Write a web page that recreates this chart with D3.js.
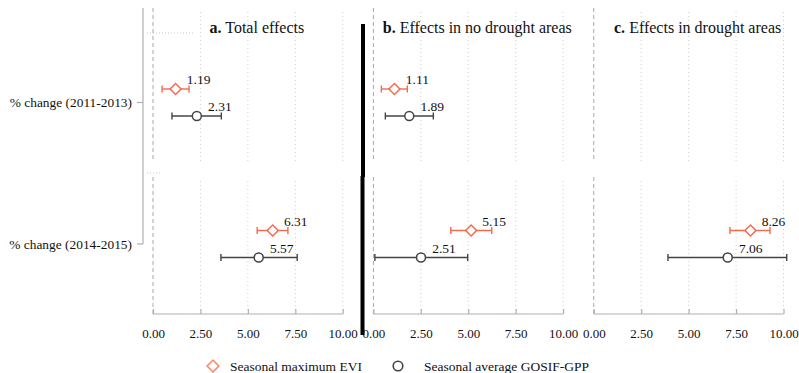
<!DOCTYPE html>
<html>
<head>
<meta charset="utf-8">
<script src="https://cdn.jsdelivr.net/npm/d3@7"></script>
<style>
  body { margin: 0; background: #fff; }
  svg { display: block; }
  svg text { font-family: "Liberation Serif", "Times New Roman", serif; }
</style>
</head>
<body>
<svg id="chart" width="799" height="373"></svg>
<script>
const panels = ["Total effects", "Effects in no drought areas", "Effects in drought areas"];
const panelLetters = ["a.", "b.", "c."];
const periods = ["% change (2011-2013)", "% change (2014-2015)"];
const series = ["Seasonal maximum EVI", "Seasonal average GOSIF-GPP"];
const xTicks = [0, 2.5, 5, 7.5, 10];

// [panel][period], null = not shown
const eviEst  = [[1.19, 6.31], [1.11, 5.15], [null, 8.26]];
const eviLow  = [[0.48, 5.49], [0.42, 4.08], [null, 7.18]];
const eviHigh = [[1.90, 7.11], [1.79, 6.24], [null, 9.29]];
const gppEst  = [[2.31, 5.57], [1.89, 2.51], [null, 7.06]];
const gppLow  = [[1.00, 3.58], [0.63, 0.08], [null, 3.91]];
const gppHigh = [[3.60, 7.60], [3.16, 4.97], [null, 10.17]];

const colors = { [series[0]]: "#f26b4d", [series[1]]: "#444444" };
const legendColors = { [series[0]]: "#f7906f", [series[1]]: "#444444" };
const serif = "Liberation Serif";

const svg = d3.select("#chart");

const panelX = d3.scaleBand().domain(panels).range([153, 783.5]).paddingInner(0.139);
const x = d3.scaleLinear().domain([0, 10]).range([0, panelX.bandwidth()]);
const rowY = d3.scalePoint().domain(periods).range([102.5, 244]);
const offY = d3.scalePoint().domain(series).range([-13.5, 13.5]);
const rowBands = [[8, 162], [177, 314]];
const axisY = 314;

// y axis on the left
const yAxis = svg.append("g");
yAxis.append("line")
  .attr("x1", 143).attr("x2", 143).attr("y1", 8).attr("y2", rowY(periods[1]))
  .attr("stroke", "#b0b0b0").attr("stroke-width", 1.2);
periods.forEach(p => {
  yAxis.append("line")
    .attr("x1", 137).attr("x2", 143).attr("y1", rowY(p)).attr("y2", rowY(p))
    .attr("stroke", "#b0b0b0").attr("stroke-width", 1.2);
  yAxis.append("text")
    .attr("x", 132).attr("y", rowY(p)).attr("dy", "0.35em")
    .attr("text-anchor", "end").attr("font-size", 13.4).attr("font-family", serif).attr("fill", "#111")
    .text(p);
});

// stray dotted segments from the original composite
svg.append("line").attr("x1", 147).attr("x2", 193).attr("y1", 33).attr("y2", 33)
  .attr("stroke", "#c8c8c8").attr("stroke-dasharray", "1,2");
svg.append("line").attr("x1", 147).attr("x2", 160).attr("y1", 173).attr("y2", 173)
  .attr("stroke", "#c8c8c8").attr("stroke-dasharray", "1,2");

panels.forEach((name, pi) => {
  const g = svg.append("g").attr("transform", `translate(${panelX(name)},0)`);

  // grid: dashed zero line and dotted ticks, per row band
  rowBands.forEach(([y0, y1]) => {
    g.selectAll(null).data(xTicks.slice(1)).enter().append("line")
      .attr("x1", d => x(d)).attr("x2", d => x(d)).attr("y1", y0 + 4).attr("y2", y1)
      .attr("stroke", "#cfcfcf").attr("stroke-width", 1).attr("stroke-dasharray", "1,3");
    g.append("line")
      .attr("x1", x(0)).attr("x2", x(0)).attr("y1", y0).attr("y2", y1)
      .attr("stroke", "#a8a8a8").attr("stroke-width", 1).attr("stroke-dasharray", "4,3");
  });

  // bottom axis
  const ax = g.append("g").attr("transform", `translate(0,${axisY})`)
    .call(d3.axisTop(x).tickValues(xTicks).tickSize(5).tickFormat(d3.format(".2f")));
  ax.attr("font-family", serif);
  ax.select(".domain").attr("stroke", "#b0b0b0").attr("stroke-width", 1.2)
    .attr("d", `M${x(0)},0H${x(10)}`);
  ax.selectAll(".tick line").attr("stroke", "#b0b0b0").attr("stroke-width", 1.2);
  ax.selectAll(".tick text")
    .attr("y", 19).attr("dy", "0.35em")
    .attr("font-size", 13).attr("font-family", serif).attr("fill", "#111");

  // panel title
  const title = g.append("text")
    .attr("x", panelX.bandwidth() / 2 + 9).attr("y", 33)
    .attr("text-anchor", "middle").attr("font-size", 16).attr("font-family", serif).attr("fill", "#111");
  title.append("tspan").attr("font-weight", "bold").text(panelLetters[pi]);
  title.append("tspan").text(" " + name);

  // estimates
  const rows = [];
  periods.forEach((p, ri) => {
    if (eviEst[pi][ri] !== null)
      rows.push({ s: series[0], p, est: eviEst[pi][ri], lo: eviLow[pi][ri], hi: eviHigh[pi][ri] });
    if (gppEst[pi][ri] !== null)
      rows.push({ s: series[1], p, est: gppEst[pi][ri], lo: gppLow[pi][ri], hi: gppHigh[pi][ri] });
  });

  rows.forEach(d => {
    const cy = rowY(d.p) + offY(d.s);
    const c = colors[d.s];
    g.append("line").attr("x1", x(d.lo)).attr("x2", x(d.hi)).attr("y1", cy).attr("y2", cy)
      .attr("stroke", c).attr("stroke-width", 1.4);
    [d.lo, d.hi].forEach(v => {
      g.append("line").attr("x1", x(v)).attr("x2", x(v)).attr("y1", cy - 3.5).attr("y2", cy + 3.5)
        .attr("stroke", c).attr("stroke-width", 1.4);
    });
    if (d.s === series[0]) {
      g.append("path")
        .attr("d", d3.symbol().type(d3.symbolSquare).size(60)())
        .attr("transform", `translate(${x(d.est)},${cy}) rotate(45)`)
        .attr("fill", "#fff").attr("stroke", c).attr("stroke-width", 1.5);
    } else {
      g.append("circle").attr("cx", x(d.est)).attr("cy", cy).attr("r", 4.5)
        .attr("fill", "#fff").attr("stroke", c).attr("stroke-width", 1.5);
    }
    g.append("text")
      .attr("x", x(d.est) + 23).attr("y", cy - 5)
      .attr("text-anchor", "middle").attr("font-size", 13.5).attr("font-family", serif).attr("fill", "#111")
      .text(d.est.toFixed(2));
  });
});

// thick black separator from the original figure
svg.append("path")
  .attr("d", "M363,24V177M362.5,176V335")
  .attr("stroke", "#000").attr("stroke-width", 4).attr("fill", "none");

// legend
const legendX = [213, 398];
series.forEach((s, i) => {
  const lg = svg.append("g").attr("transform", `translate(${legendX[i]},366)`);
  if (i === 0) {
    lg.append("path").attr("d", d3.symbol().type(d3.symbolSquare).size(70)())
      .attr("transform", "rotate(45)")
      .attr("fill", "#fff").attr("stroke", legendColors[s]).attr("stroke-width", 1.6);
  } else {
    lg.append("circle").attr("r", 4.8)
      .attr("fill", "#fff").attr("stroke", legendColors[s]).attr("stroke-width", 1.6);
  }
  lg.append("text").attr("x", i === 0 ? 17 : 26).attr("y", 5)
    .attr("font-size", 13.5).attr("font-family", serif).attr("fill", "#111").text(s);
});
</script>
</body>
</html>
